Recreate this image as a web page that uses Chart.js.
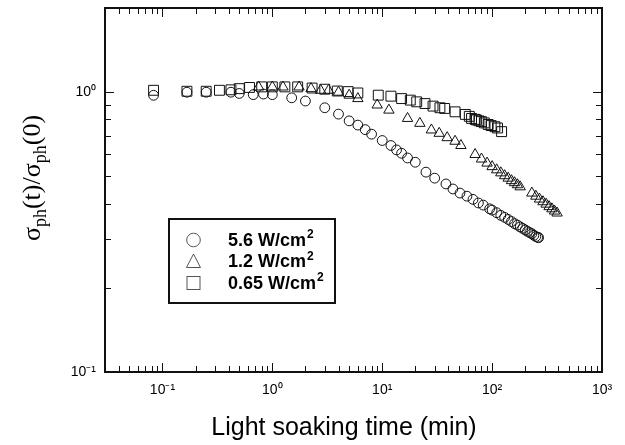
<!DOCTYPE html>
<html>
<head>
<meta charset="utf-8">
<script src="https://cdn.jsdelivr.net/npm/chart.js@4.4.0/dist/chart.umd.min.js"></script>
<style>
html,body{margin:0;padding:0;background:#fff}
canvas{display:block}
</style>
</head>
<body>
<canvas id="c" width="625" height="445"></canvas>
<script>
// light soaking time (min) and sigma_ph(t)/sigma_ph(0)
const t56 = [0.083,0.167,0.25,0.42,0.5,0.67,0.83,1,1.5,2,3,4,5,6,7,8,10,12,13.5,15,17,20,25,30,38,44,51,59,67,75,83,95,
             100,110,120,130,140,150,160,170,180,190,200,210,220,230,240,250,260,265];
const s56 = [0.975,1.0,1.0,1.0,0.99,0.98,0.985,0.98,0.955,0.93,0.88,0.835,0.79,0.763,0.735,0.708,0.672,0.645,0.622,0.605,0.582,0.562,0.518,0.493,0.47,0.451,0.436,0.425,0.414,0.402,0.395,0.383,
             0.379,0.371,0.363,0.357,0.351,0.345,0.339,0.335,0.33,0.326,0.322,0.318,0.315,0.312,0.308,0.305,0.303,0.302];

const t12 = [0.75,1,1.25,1.75,2.25,2.75,3.25,4,5,6,9,11.5,17,22,28,33,39,46,52,
             70,80,90,100,110,120,130,140,150,160,170,180,
             230,250,270,290,310,330,350,370,390];
const s12 = [1.044,1.044,1.044,1.044,1.03,1.016,1.016,1.0,0.976,0.949,0.9,0.863,0.806,0.774,0.733,0.713,0.688,0.668,0.645,
             0.599,0.577,0.558,0.542,0.528,0.515,0.503,0.493,0.483,0.475,0.467,0.459,
             0.436,0.425,0.415,0.406,0.398,0.39,0.383,0.376,0.37];

const t065 = [0.083,0.167,0.25,0.33,0.42,0.5,0.62,0.8,1.0,1.3,1.7,2.3,3.0,3.9,4.9,6.0,9.2,12,15,18,20.6,24.5,29,33.5,37,46,
              57,62,65,70,72,76,80,85,92,98,106,112,122];
const s065 = [1.016,1.008,1.008,1.016,1.02,1.03,1.04,1.045,1.045,1.045,1.045,1.035,1.025,1.01,1.005,0.994,0.976,0.968,0.949,0.937,0.924,0.911,0.892,0.88,0.875,0.851,
              0.833,0.82,0.806,0.8,0.796,0.79,0.785,0.777,0.767,0.76,0.753,0.745,0.723];

const seriesNames = ['5.6 W/cm', '1.2 W/cm', '0.65 W/cm'];
const xTickVals = [0.03,0.04,0.05,0.06,0.07,0.08,0.09,0.1,0.2,0.3,0.4,0.5,0.6,0.7,0.8,0.9,1,2,3,4,5,6,7,8,9,
                   10,20,30,40,50,60,70,80,90,100,200,300,400,500,600,700,800,900,1000];
const yTickVals = [0.1,0.2,0.3,0.4,0.5,0.6,0.7,0.8,0.9,1,2];
const decadeLabels = {0.1:'10⁻¹', 1:'10⁰', 10:'10¹', 100:'10²', 1000:'10³'};
const xTitle = 'Light soaking time (min)';

const pts = (t, s) => t.map((v, i) => ({x: v, y: s[i]}));
const ink = '#111';
const sans = '"Liberation Sans", Arial, sans-serif';
const serif = '"Liberation Serif", "Times New Roman", serif';

// inward ticks on all four sides + frame
const frameTicks = {
  id: 'frameTicks',
  afterDraw(chart) {
    const ctx = chart.ctx, a = chart.chartArea;
    const xs = chart.scales.x, ys = chart.scales.y;
    ctx.save();
    ctx.strokeStyle = ink;
    ctx.lineWidth = 1;
    ctx.beginPath();
    xs.ticks.forEach(tk => {
      const p = Math.round(xs.getPixelForValue(tk.value)) + 0.5;
      const len = decadeLabels[tk.value] ? 9 : 6;
      ctx.moveTo(p, a.bottom); ctx.lineTo(p, a.bottom - len);
      ctx.moveTo(p, a.top); ctx.lineTo(p, a.top + len);
    });
    ys.ticks.forEach(tk => {
      const p = Math.round(ys.getPixelForValue(tk.value)) + 0.5;
      const len = decadeLabels[tk.value] ? 9 : 6;
      ctx.moveTo(a.left, p); ctx.lineTo(a.left + len, p);
      ctx.moveTo(a.right, p); ctx.lineTo(a.right - len, p);
    });
    ctx.stroke();
    ctx.lineWidth = 2;
    ctx.strokeRect(a.left, a.top, a.right - a.left, a.bottom - a.top);
    ctx.restore();
  }
};

// axis titles (y one has subscripts)
const axisTitles = {
  id: 'axisTitles',
  afterDraw(chart) {
    const ctx = chart.ctx;
    ctx.save();
    ctx.fillStyle = '#000';
    ctx.font = '25px ' + sans;
    ctx.textAlign = 'center';
    ctx.textBaseline = 'middle';
    ctx.fillText(xTitle, 344, 428);

    const big = '26px ' + serif, small = '18px ' + serif;
    const parts = [['σ', big, 0], ['ph', small, 6], ['(t)/σ', big, 0], ['ph', small, 6], ['(0)', big, 0]];
    let total = 0;
    parts.forEach(p => { ctx.font = p[1]; total += ctx.measureText(p[0]).width; });
    ctx.translate(20, 178);
    ctx.rotate(-Math.PI / 2);
    ctx.textAlign = 'left';
    ctx.textBaseline = 'alphabetic';
    let x = -total / 2;
    parts.forEach(p => {
      ctx.font = p[1];
      ctx.fillText(p[0], x, 20 + p[2]);
      x += ctx.measureText(p[0]).width;
    });
    ctx.restore();
  }
};

// boxed legend inside the plot
const boxLegend = {
  id: 'boxLegend',
  afterDraw(chart) {
    const ctx = chart.ctx;
    const bx = 169, by = 219, bw = 166, bh = 84;
    const rows = [240, 261.5, 283];
    ctx.save();
    ctx.fillStyle = '#fff';
    ctx.fillRect(bx, by, bw, bh);
    ctx.lineWidth = 2;
    ctx.strokeStyle = ink;
    ctx.strokeRect(bx, by, bw, bh);
    ctx.strokeStyle = '#555';
    ctx.lineWidth = 1;
    const sx = 193.5;
    // circle
    ctx.beginPath(); ctx.arc(sx, rows[0], 6.8, 0, Math.PI * 2); ctx.stroke();
    // triangle
    ctx.beginPath();
    ctx.moveTo(sx, rows[1] - 7.5); ctx.lineTo(sx + 7, rows[1] + 6); ctx.lineTo(sx - 7, rows[1] + 6); ctx.closePath(); ctx.stroke();
    // square
    ctx.strokeRect(sx - 6.5, rows[2] - 6.5, 13, 13);
    ctx.fillStyle = '#000';
    ctx.textBaseline = 'middle';
    seriesNames.forEach((n, i) => {
      ctx.font = 'bold 18px ' + sans;
      ctx.fillText(n, 228, rows[i] + 1);
      const w = ctx.measureText(n).width;
      ctx.font = 'bold 12px ' + sans;
      ctx.fillText('2', 228 + w + 1, rows[i] - 5);
    });
    ctx.restore();
  }
};

const baseDs = {showLine: false, pointBackgroundColor: 'rgba(0,0,0,0)', pointBorderColor: ink, pointBorderWidth: 1};

new Chart(document.getElementById('c'), {
  type: 'scatter',
  data: {
    datasets: [
      Object.assign({label: seriesNames[0], data: pts(t56, s56), pointStyle: 'circle', pointRadius: 4.9}, baseDs),
      Object.assign({label: seriesNames[1], data: pts(t12, s12), pointStyle: 'triangle', pointRadius: 6}, baseDs),
      Object.assign({label: seriesNames[2], data: pts(t065, s065), pointStyle: 'rect', pointRadius: 7}, baseDs)
    ]
  },
  options: {
    responsive: false,
    animation: false,
    devicePixelRatio: 1,
    layout: {padding: {top: 5, right: 23, left: 0, bottom: 0}},
    plugins: {legend: {display: false}, tooltip: {enabled: false}},
    scales: {
      x: {
        type: 'logarithmic',
        min: 0.03, max: 1000,
        afterBuildTicks: s => { s.ticks = xTickVals.map(v => ({value: v})); },
        afterFit: s => { s.height = 73; s.paddingLeft = 0; s.paddingRight = 0; },
        grid: {display: false, drawTicks: false},
        border: {display: false},
        ticks: {autoSkip: false, maxRotation: 0, padding: 10, color: '#000',
                font: {family: sans, size: 14},
                callback: v => decadeLabels[v] || ''}
      },
      y: {
        type: 'logarithmic',
        min: 0.1, max: 2,
        afterBuildTicks: s => { s.ticks = yTickVals.map(v => ({value: v})); },
        afterFit: s => { s.width = 105; s.paddingTop = 0; s.paddingBottom = 0; },
        grid: {display: false, drawTicks: false},
        border: {display: false},
        ticks: {autoSkip: false, padding: 9, color: '#000',
                font: {family: sans, size: 14},
                callback: v => (v === 0.1 || v === 1) ? decadeLabels[v] : ''}
      }
    }
  },
  plugins: [frameTicks, axisTitles, boxLegend]
});
</script>
</body>
</html>
